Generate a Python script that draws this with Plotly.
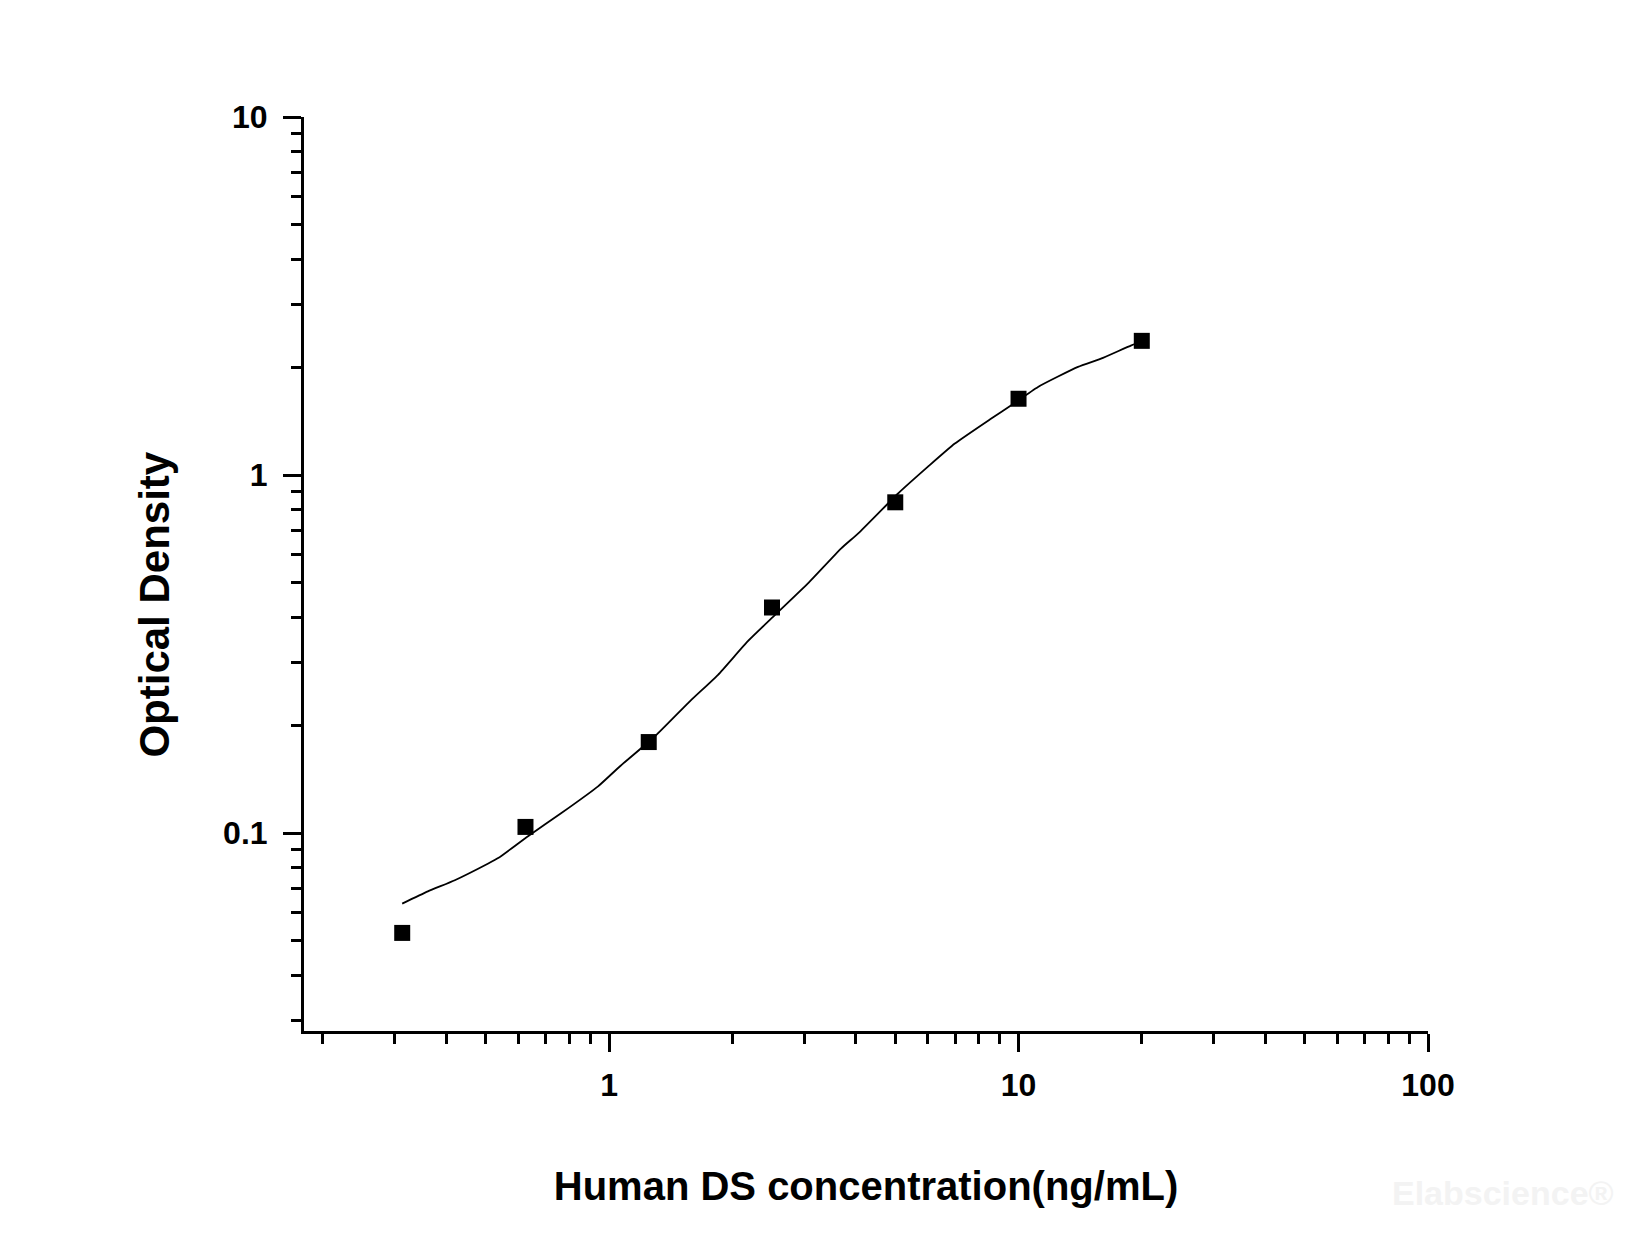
import plotly.graph_objects as go

# standard points (ng/mL) and measured OD
conc = [0.3125, 0.625, 1.25, 2.5, 5, 10, 20]
od = [0.0526, 0.104, 0.1795, 0.4265, 0.839, 1.633, 2.37]

# fitted curve
curve_conc = [0.3125, 0.361, 0.42, 0.507, 0.536, 0.634, 0.765, 0.94, 1.062,
              1.293, 1.588, 1.846, 2.18, 2.54, 3.06, 3.69, 4.06, 5.08, 6.01,
              6.99, 8.58, 9.6, 11.16, 13.97, 15.9, 18.86, 20]
curve_od = [0.0635, 0.0687, 0.0738, 0.0822, 0.0851, 0.098, 0.1137, 0.135,
            0.1534, 0.186, 0.2354, 0.2767, 0.343, 0.406, 0.498, 0.624, 0.687,
            0.888, 1.055, 1.224, 1.438, 1.566, 1.762, 2.004, 2.113, 2.303,
            2.36]

x_ticks = [1, 10, 100]
x_ticktext = ["1", "10", "100"]
y_ticks = [0.1, 1, 10]
y_ticktext = ["0.1", "1", "10"]

FONT = "Liberation Sans, Arial, sans-serif"

fig = go.Figure()
fig.add_trace(go.Scatter(
    x=curve_conc, y=curve_od, mode="lines",
    line=dict(color="black", width=1.8, shape="spline", smoothing=0.5),
    showlegend=False, hoverinfo="skip",
))
fig.add_trace(go.Scatter(
    x=conc, y=od, mode="markers",
    marker=dict(symbol="square", size=16, color="black"),
    showlegend=False,
))

axis_common = dict(
    type="log",
    showgrid=False, zeroline=False,
    showline=True, linecolor="black", linewidth=3,
    ticks="outside", ticklen=18, tickwidth=3, tickcolor="black",
    tickfont=dict(family=FONT, size=32, color="black", weight="bold"),
    minor=dict(ticks="outside", ticklen=10, tickwidth=3, tickcolor="black",
               dtick="D1", showgrid=False),
)

fig.update_xaxes(
    **axis_common,
    range=[-0.745, 2],
    tickvals=x_ticks, ticktext=x_ticktext,
    ticklabelstandoff=6,
    title=dict(text="Human DS concentration(ng/mL)", standoff=70,
               font=dict(family=FONT, size=40, color="black", weight="bold")),
)
fig.update_yaxes(
    **axis_common,
    range=[-1.553, 1],
    tickvals=y_ticks, ticktext=y_ticktext,
    ticklabelstandoff=9,
)

fig.update_layout(
    width=1650, height=1237, autosize=False,
    margin=dict(l=296, r=230, t=109, b=214),
    plot_bgcolor="white", paper_bgcolor="white",
    annotations=[
        dict(text="Optical Density", textangle=-90,
             x=-0.133, y=0.466, xref="paper", yref="paper",
             showarrow=False, xanchor="center", yanchor="middle",
             font=dict(family=FONT, size=42, color="black", weight="bold")),
        dict(text="Elabscience\u00ae", x=1.067, y=-0.177, xref="paper",
             yref="paper", showarrow=False, xanchor="center", yanchor="middle",
             font=dict(family=FONT, size=34, color="#f3f3f3", weight="bold")),
    ],
)

fig.write_html("out.html")
